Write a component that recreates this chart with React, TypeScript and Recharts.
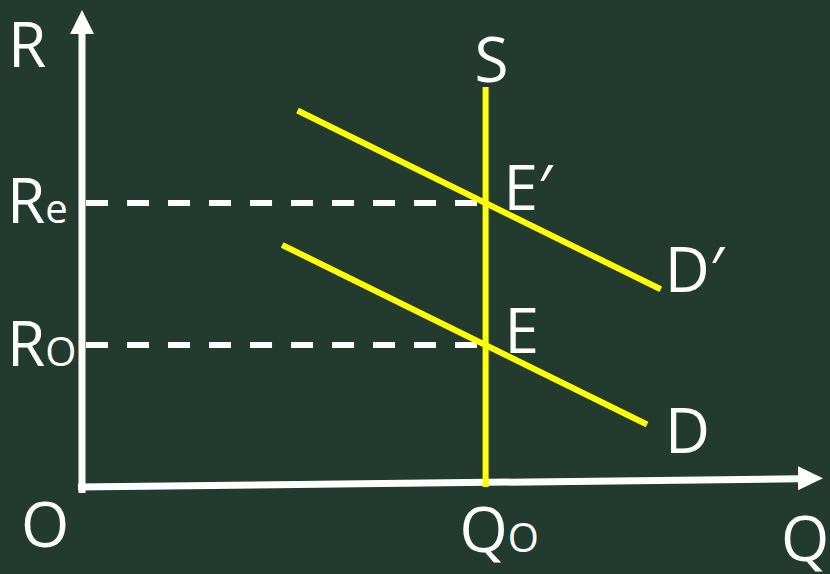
import React from 'react';
import { ComposedChart, Line, XAxis, YAxis, ReferenceLine, ReferenceDot } from 'recharts';

// Quantity (Q) / Rate (R) model values
const supplyQ = [5, 5];
const supplyR = [0, 11.27];
const demandQ = [2.48, 7.0];
const demandR = [6.82, 1.76];
const demandNewQ = [2.67, 7.17];
const demandNewR = [10.61, 5.57];
const equilibriumQ = 5;
const rateOriginal = 4; // R_O
const rateNew = 8; // R_e
const qAxisMax = 9.18;
const rAxisMax = 13.44;

const toPoints = (qs: number[], rs: number[]) => qs.map((q, i) => ({ q, r: rs[i] }));
const supplyData = toPoints(supplyQ, supplyR);
const demandData = toPoints(demandQ, demandR);
const demandNewData = toPoints(demandNewQ, demandNewR);

const BG = '#233a2f';
const YELLOW = '#ffff00';
const WHITE = '#ffffff';
const FONT = '"Open Sans", "DejaVu Sans", sans-serif';

const textStyle = { fill: WHITE, fontFamily: FONT, fontSize: 62 };

const makeLabel = (main: string, sub: string | null, dx: number, dy: number) => (props: any) => {
  const { cx, cy } = props;
  return (
    <text x={cx + dx} y={cy + dy} style={textStyle}>
      <tspan>{main}</tspan>
      {sub ? <tspan style={{ fontSize: 40 }}>{sub}</tspan> : null}
    </text>
  );
};

const arrowRight = (props: any) => {
  const { cx, cy } = props;
  return <polygon points={`${cx},${cy} ${cx - 25},${cy - 12} ${cx - 25},${cy + 12}`} fill={WHITE} />;
};
const arrowUp = (props: any) => {
  const { cx, cy } = props;
  return <polygon points={`${cx},${cy} ${cx - 12},${cy + 24} ${cx + 12},${cy + 24}`} fill={WHITE} />;
};

export default function App() {
  return (
    <div style={{ position: 'absolute', left: 0, top: 0, width: 830, height: 574, background: BG }}>
      <ComposedChart width={830} height={574} margin={{ top: 10, right: 7, bottom: 87, left: 82 }}>
        <XAxis type="number" dataKey="q" domain={[0, qAxisMax]} hide allowDataOverflow />
        <YAxis type="number" dataKey="r" domain={[0, rAxisMax]} hide allowDataOverflow />

        {/* axes */}
        <ReferenceLine
          segment={[{ x: -0.05, y: 0 }, { x: qAxisMax - 0.3, y: 0.23 }]}
          stroke={WHITE}
          strokeWidth={7}
          ifOverflow="visible"
        />
        <ReferenceLine
          segment={[{ x: 0, y: -0.17 }, { x: 0, y: rAxisMax - 0.6 }]}
          stroke={WHITE}
          strokeWidth={7}
          ifOverflow="visible"
        />
        <ReferenceDot x={qAxisMax} y={0.25} r={0} ifOverflow="visible" shape={arrowRight} />
        <ReferenceDot x={0} y={rAxisMax} r={0} ifOverflow="visible" shape={arrowUp} />

        {/* dashed guides */}
        <ReferenceLine
          segment={[{ x: 0.05, y: rateNew }, { x: equilibriumQ, y: rateNew }]}
          stroke={WHITE}
          strokeWidth={6}
          strokeDasharray="22 19"
          ifOverflow="visible"
        />
        <ReferenceLine
          segment={[{ x: 0.05, y: rateOriginal }, { x: equilibriumQ, y: rateOriginal }]}
          stroke={WHITE}
          strokeWidth={6}
          strokeDasharray="22 19"
          ifOverflow="visible"
        />

        {/* curves */}
        <Line data={supplyData} dataKey="r" stroke={YELLOW} strokeWidth={6} dot={false} isAnimationActive={false} />
        <Line data={demandNewData} dataKey="r" stroke={YELLOW} strokeWidth={6} dot={false} isAnimationActive={false} />
        <Line data={demandData} dataKey="r" stroke={YELLOW} strokeWidth={6} dot={false} isAnimationActive={false} />

        {/* labels */}
        <ReferenceDot x={0} y={rAxisMax} r={0} ifOverflow="visible" shape={makeLabel('R', null, -74, 57)} />
        <ReferenceDot x={0} y={rateNew} r={0} ifOverflow="visible" shape={makeLabel('R', 'e', -75, 20)} />
        <ReferenceDot x={0} y={rateOriginal} r={0} ifOverflow="visible" shape={makeLabel('R', 'O', -75, 21)} />
        <ReferenceDot x={0} y={0} r={0} ifOverflow="visible" shape={makeLabel('O', null, -61, 60)} />
        <ReferenceDot x={equilibriumQ} y={0} r={0} ifOverflow="visible" shape={makeLabel('Q', 'O', -26, 65)} />
        <ReferenceDot x={qAxisMax} y={0} r={0} ifOverflow="visible" shape={makeLabel('Q', null, -42, 74)} />
        <ReferenceDot x={supplyQ[1]} y={supplyR[1]} r={0} ifOverflow="visible" shape={makeLabel('S', null, -11, -5)} />
        <ReferenceDot x={equilibriumQ} y={rateNew} r={0} ifOverflow="visible" shape={makeLabel('E′', null, 18, 7)} />
        <ReferenceDot x={equilibriumQ} y={rateOriginal} r={0} ifOverflow="visible" shape={makeLabel('E', null, 19, 8)} />
        <ReferenceDot x={demandNewQ[1]} y={demandNewR[1]} r={0} ifOverflow="visible" shape={makeLabel('D′', null, 4, 3)} />
        <ReferenceDot x={demandQ[1]} y={demandR[1]} r={0} ifOverflow="visible" shape={makeLabel('D', null, 18, 28)} />
      </ComposedChart>
    </div>
  );
}
